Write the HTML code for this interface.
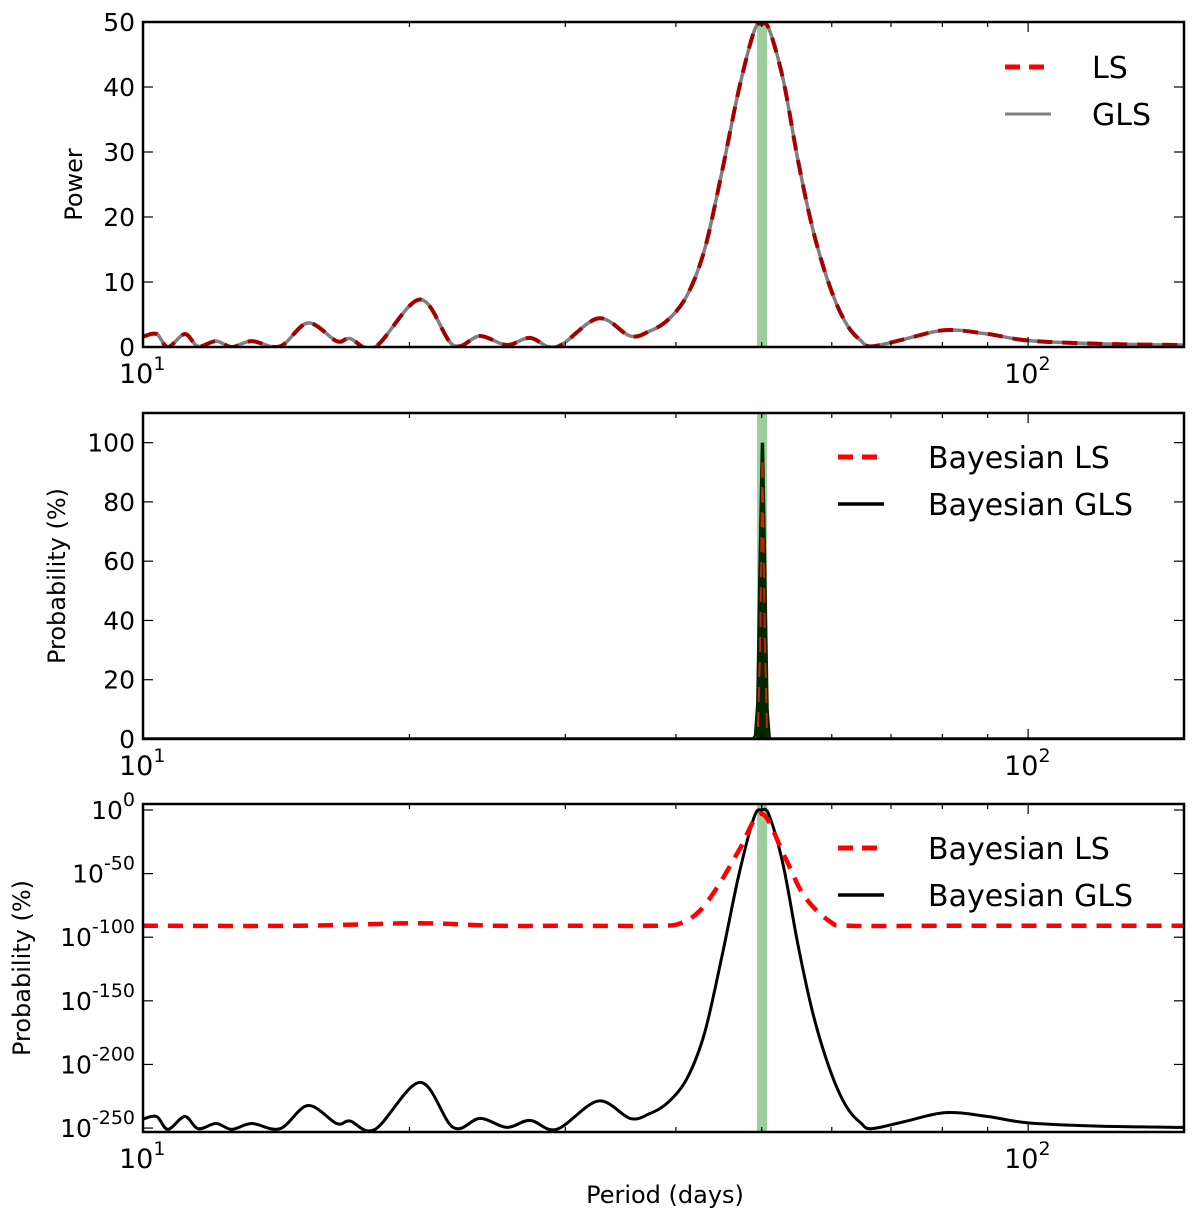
<!DOCTYPE html>
<html><head><meta charset="utf-8"><style>
html,body{margin:0;padding:0;background:#fff;}
svg{display:block;font-family:"DejaVu Sans","Liberation Sans",sans-serif;}
</style></head><body>
<svg id="fig" width="1200" height="1215" viewBox="0 0 1200 1215" xmlns="http://www.w3.org/2000/svg"></svg>
<script>
// ---- data ----
const powerPeriods = [10,10.36,10.67,11.15,11.54,12.09,12.6,13.27,14.28,15.36,16.55,17.13,18.29,20.56,22.4,24.03,25.76,27.37,29.34,32.67,35.5,37.3,39.2,41.2,43.1,45.1,47.1,49.0,50,51,52.9,54.9,56.9,58.8,60.8,62.7,64.7,66.5,72.5,80.6,90,100,120,150];
const powerValues  = [1.6,2.0,0,2.0,0.1,0.9,0,0.9,0.1,3.7,0.9,1.3,0,7.3,0.3,1.7,0.3,1.4,0,4.4,1.7,2.4,4.2,8,15,27,39.5,48.5,49.7,48.8,41,29,19,12,6.5,3,1,0.1,1.2,2.6,2.0,1.0,0.5,0.3];
const probPeriods = [10,48.9,49.2,49.5,49.8,50.1,50.4,50.7,51.0,150];
const probGLS     = [0,0,1,12,60,100,55,10,0,0];
const probLS      = [0,0,0,2,30,95,35,2,0,0];
const logLSPeriods = [10,15,20.5,25,30,38,40.5,42.6,44.8,47.2,50,53.1,55.9,59.8,62.9,80,100,150];
const logLSValues  = [-91,-91,-89,-91,-91,-91,-89,-79,-58,-31,-3,-37,-68,-88,-91,-91,-91,-91];
const glsLogFloor = -251;
const xTickLabels = ["1","2"];
const powerTicks = [0,10,20,30,40,50];
const probTicks = [0,20,40,60,80,100];
const logTicks = [0,-50,-100,-150,-200,-250];
const peakBand = [49.4,50.7];

// ---- layout ----
const svg = document.getElementById('fig');
const NS = 'http://www.w3.org/2000/svg';
const X0 = 143, X1 = 1184, XMIN = 10, XMAX = 150;
const xs = p => X0 + (Math.log10(p) - Math.log10(XMIN)) / (Math.log10(XMAX) - Math.log10(XMIN)) * (X1 - X0);
function mk(tag, attrs, parent){ const e = document.createElementNS(NS, tag); for (const k in attrs) e.setAttribute(k, attrs[k]); (parent||svg).appendChild(e); return e; }
function pathFrom(pts){
  let d = 'M' + pts[0][0].toFixed(2) + ',' + pts[0][1].toFixed(2);
  for (let i = 0; i < pts.length - 1; i++){
    const p0 = pts[Math.max(0,i-1)], p1 = pts[i], p2 = pts[i+1], p3 = pts[Math.min(pts.length-1,i+2)];
    const c1 = [p1[0] + (p2[0]-p0[0])/6, p1[1] + (p2[1]-p0[1])/6];
    const c2 = [p2[0] - (p3[0]-p1[0])/6, p2[1] - (p3[1]-p1[1])/6];
    d += 'C' + c1.map(v=>v.toFixed(2)).join(',') + ' ' + c2.map(v=>v.toFixed(2)).join(',') + ' ' + p2[0].toFixed(2) + ',' + p2[1].toFixed(2);
  }
  return d;
}
function linePath(pts){ return 'M' + pts.map(p=>p[0].toFixed(2)+','+p[1].toFixed(2)).join('L'); }

function panel(name, top, bot, ymin, ymax, ticks, tickFmt, ylabel, ylabelX, legend){
  const g = mk('g', {}, svg);
  
  
  const ys = v => bot - (v - ymin) / (ymax - ymin) * (bot - top);
  const clipId = name + '-clip';
  const cp = mk('clipPath', {id: clipId}, g);
  mk('rect', {x: X0, y: top, width: X1 - X0, height: bot - top}, cp);
  const plot = mk('g', {'clip-path': 'url(#' + clipId + ')'}, g);
  
  
  const band = mk('rect', {x: xs(peakBand[0]), y: top, width: xs(peakBand[1]) - xs(peakBand[0]), height: bot - top, fill: '#9ccf9c'}, plot);
  
  
  const fr = mk('rect', {x: X0, y: top, width: X1 - X0, height: bot - top, fill: 'none', stroke: '#000', 'stroke-width': 2.5}, g);
  
  
  for (let dec = 10; dec <= 100; dec *= 10){
    for (let m = 1; m <= 9; m++){
      const p = dec * m; if (p < XMIN || p > XMAX) continue;
      const x = xs(p), L = m === 1 ? 10 : 5;
      mk('line', {x1: x, x2: x, y1: bot, y2: bot - L, stroke: '#000', 'stroke-width': 1.2}, g);
      mk('line', {x1: x, x2: x, y1: top, y2: top + L, stroke: '#000', 'stroke-width': 1.2}, g);
    }
  }
  [10,100].forEach((p,i) => {
    const t = mk('text', {x: xs(p) - 24, y: bot + 36, 'font-size': 27, fill: '#000'}, g);
    
    
    t.innerHTML = '10<tspan dy="-13" font-size="19">' + xTickLabels[i] + '</tspan>';
  });
  ticks.forEach(v => {
    const y = ys(v);
    mk('line', {x1: X0, x2: X0 + 10, y1: y, y2: y, stroke: '#000', 'stroke-width': 1.2}, g);
    mk('line', {x1: X1, x2: X1 - 10, y1: y, y2: y, stroke: '#000', 'stroke-width': 1.2}, g);
    const t = mk('text', {x: X0 - 8, y: y + 9, 'font-size': 25, 'text-anchor': 'end', fill: '#000'}, g);
    
    
    t.innerHTML = tickFmt(v);
  });
  const yl = mk('text', {x: ylabelX, y: (top + bot) / 2, 'font-size': 24, 'text-anchor': 'middle', transform: 'rotate(-90 ' + ylabelX + ' ' + (top + bot) / 2 + ')'}, g);
  
  
  yl.textContent = ylabel;
  const lg = mk('g', {}, g);
  
  
  legend.forEach((e, i) => {
    const y = legend.y0 + i * 47;
    const ent = mk('g', {}, lg);
    
    
    mk('line', {x1: legend.lx, x2: legend.lx + 46, y1: y, y2: y, stroke: e.c, 'stroke-width': e.w, 'stroke-dasharray': e.dash || 'none'}, ent);
    const t = mk('text', {x: legend.tx, y: y + 11, 'font-size': 30}, ent);
    t.textContent = e.t;
  });
  return {plot, ys};
}

const P1 = panel('power-panel', 22, 347, 0, 50, powerTicks, v => v, 'Power', 82,
  Object.assign([{t:'LS', c:'#ff0000', w:5, dash:'15 9'}, {t:'GLS', c:'#808080', w:3}], {y0: 67, lx: 1005, tx: 1092}));
const topPts = powerPeriods.map((p,i) => [xs(p), P1.ys(powerValues[i])]);
let e = mk('path', {d: pathFrom(topPts), fill: 'none', stroke: '#808080', 'stroke-width': 3.5}, P1.plot);


e = mk('path', {d: pathFrom(topPts), fill: 'none', stroke: '#a50000', 'stroke-width': 4, 'stroke-dasharray': '15 10'}, P1.plot);



const P2 = panel('probability-panel', 413, 739, 0, 110, probTicks, v => v, 'Probability (%)', 65,
  Object.assign([{t:'Bayesian LS', c:'#ff0000', w:5, dash:'15 9'}, {t:'Bayesian GLS', c:'#000', w:3.5}], {y0: 457, lx: 838, tx: 928}));
e = mk('path', {d: linePath(probPeriods.map((p,i)=>[xs(p), P2.ys(probGLS[i])])), fill: '#002800', stroke: '#002800', 'stroke-width': 3.5}, P2.plot);


e = mk('path', {d: linePath(probPeriods.map((p,i)=>[xs(p), P2.ys(probLS[i])])), fill: 'none', stroke: '#cc2200', 'stroke-width': 2, 'stroke-dasharray': '15 10'}, P2.plot);



const P3 = panel('log-probability-panel', 804, 1132, -253.1, 4.7, logTicks, v => '10<tspan dy="-13" font-size="19">' + v + '</tspan>', 'Probability (%)', 30,
  Object.assign([{t:'Bayesian LS', c:'#ff0000', w:5, dash:'15 9'}, {t:'Bayesian GLS', c:'#000', w:3.5}], {y0: 848, lx: 838, tx: 928}));
const maxPow = Math.max(...powerValues);
const glsLog = powerValues.map(v => glsLogFloor + (v / maxPow) * (-glsLogFloor));
e = mk('path', {d: pathFrom(powerPeriods.map((p,i)=>[xs(p), P3.ys(glsLog[i])])), fill: 'none', stroke: '#000', 'stroke-width': 3}, P3.plot);


e = mk('path', {d: pathFrom(logLSPeriods.map((p,i)=>[xs(p), P3.ys(logLSValues[i])])), fill: 'none', stroke: '#ff0000', 'stroke-width': 4.5, 'stroke-dasharray': '15 10'}, P3.plot);



const xt = mk('text', {x: 665, y: 1203, 'font-size': 24, 'text-anchor': 'middle'}, svg);


xt.textContent = 'Period (days)';
</script>
</body></html>
